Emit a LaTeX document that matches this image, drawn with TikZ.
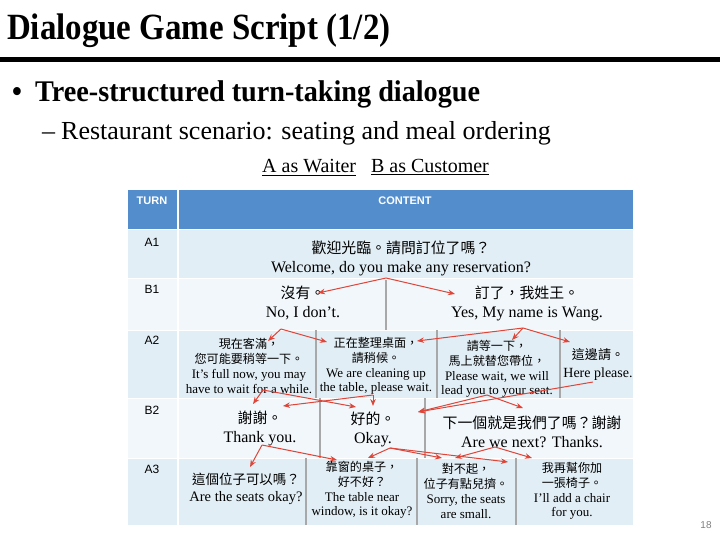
\documentclass[tikz,border=0pt]{standalone}
\usepackage{fontspec}
\usetikzlibrary{arrows.meta}
\setmainfont{Liberation Serif}
\newfontfamily\cjk[Scale=0.93]{Noto Sans CJK TC}
\newfontfamily\hdfont{Liberation Sans}
\newfontfamily\ttlfont[FakeStretch=0.89]{Liberation Serif}
\newfontfamily\ptfont[FakeStretch=0.94]{Liberation Serif}
\definecolor{hdblue}{RGB}{84,141,204}
\definecolor{rowA}{RGB}{226,238,245}
\definecolor{rowB}{RGB}{241,247,250}
\definecolor{sepgray}{RGB}{168,168,168}
\definecolor{arrred}{RGB}{222,70,58}
\tikzset{
  cell/.style={align=center, inner sep=0pt, font=\fontsize{13}{14.8}\selectfont},
  bigcell/.style={align=center, inner sep=0pt, font=\fontsize{16}{19}\selectfont},
  turn/.style={font=\hdfont\fontsize{12}{12}\selectfont, anchor=north, inner sep=0pt},
  sep/.style={sepgray, line width=1.2pt},
  talk/.style={-{Stealth[length=7pt,width=5.5pt]}, arrred, line width=1pt},
}
\begin{document}
\begin{tikzpicture}[x=1pt,y=-1pt]
\useasboundingbox (0,0) rectangle (720,540);
\fill[white] (0,0) rectangle (720,540);

\node[anchor=base west, inner sep=0pt, font=\ttlfont\bfseries\fontsize{37}{37}\selectfont] (title) at (7,40) {Dialogue Game Script (1/2)};
\fill[black] (0,57) rectangle (720,62);
\node[anchor=base west, inner sep=0pt, font=\ptfont\bfseries\fontsize{30}{30}\selectfont] (bullet) at (12,102) {\textbullet};
\node[anchor=base west, inner sep=0pt, font=\ptfont\bfseries\fontsize{30}{30}\selectfont] (point) at (35,102) {Tree-structured turn-taking dialogue};
\node[anchor=base west, inner sep=0pt, font=\fontsize{26}{26}\selectfont] (sub) at (42,140) {–\hspace{6pt}Restaurant scenario: seating and meal ordering};
\node[anchor=base west, inner sep=0pt, font=\fontsize{20}{20}\selectfont] (roles) at (262,173) {\underline{A as Waiter}\hspace{15pt}\underline{B as Customer}};

\fill[hdblue] (128,190) rectangle (633,230);
\fill[rowA] (128,230) rectangle (633,278);
\fill[rowB] (128,278) rectangle (633,330);
\fill[rowA] (128,330) rectangle (633,398);
\fill[rowB] (128,398) rectangle (633,458);
\fill[rowA] (128,458) rectangle (633,525);
\draw[white, line width=1.5pt] (178,190) -- (178,525);
\foreach \y in {230,278,330,398,458} \draw[white, line width=1pt] (128,\y) -- (633,\y);

\node[turn, text=white, font=\hdfont\bfseries\fontsize{11}{11}\selectfont] (hturn) at (152,197) {TURN};
\node[turn, text=white, font=\hdfont\bfseries\fontsize{11}{11}\selectfont] (hcontent) at (405,197) {CONTENT};
\node[turn] (ta1) at (152,238) {A1};
\node[turn] (tb1) at (152,285) {B1};
\node[turn] (ta2) at (152,336) {A2};
\node[turn] (tb2) at (152,406) {B2};
\node[turn] (ta3) at (152,465) {A3};

\draw[sep] (386,280) -- (386,330);
\draw[sep] (316,330) -- (316,398);
\draw[sep] (437,330) -- (437,398);
\draw[sep] (560,330) -- (560,398);
\draw[sep] (320,398) -- (320,458);
\draw[sep] (425,398) -- (425,458);
\draw[sep] (306,458) -- (306,525);
\draw[sep] (417,458) -- (417,525);
\draw[sep] (516,458) -- (516,525);

\node[bigcell] (a1) at (401,258) {{\cjk 歡迎光臨。請問訂位了嗎？}\\Welcome, do you make any reservation?};
\node[bigcell] (b1l) at (303,303) {{\cjk 沒有。}\\No, I don’t.};
\node[bigcell] (b1r) at (527,303) {{\cjk 訂了，我姓王。}\\Yes, My name is Wang.};
\node[cell] (a2a) at (249,366) {{\cjk 現在客滿，}\\{\cjk 您可能要稍等一下。}\\It’s full now, you may\\have to wait for a while.};
\node[cell] (a2b) at (376,366) {{\cjk 正在整理桌面，}\\{\cjk 請稍候。}\\We are cleaning up\\the table, please wait.};
\node[cell] (a2c) at (497,369) {{\cjk 請等一下，}\\{\cjk 馬上就替您帶位，}\\Please wait, we will\\lead you to your seat.};
\node[cell, font=\fontsize{14}{18}\selectfont] (a2d) at (598,364) {{\cjk 這邊請。}\\Here please.};
\node[bigcell] (b2a) at (260,428) {{\cjk 謝謝。}\\Thank you.};
\node[bigcell] (b2b) at (373,429) {{\cjk 好的。}\\Okay.};
\node[bigcell] (b2c) at (532,432) {{\cjk 下一個就是我們了嗎？謝謝}\\Are we next? Thanks.};
\node[cell, font=\fontsize{14.5}{16.5}\selectfont] (a3a) at (246,489) {{\cjk 這個位子可以嗎？}\\Are the seats okay?};
\node[cell] (a3b) at (362,490) {{\cjk 靠窗的桌子，}\\{\cjk 好不好？}\\The table near\\window, is it okay?};
\node[cell] (a3c) at (466,491) {{\cjk 對不起，}\\{\cjk 位子有點兒擠。}\\Sorry, the seats\\are small.};
\node[cell] (a3d) at (572,491) {{\cjk 我再幫你加}\\{\cjk 一張椅子。}\\I’ll add a chair\\for you.};

\coordinate (oa1) at (386,278);
\coordinate (ob1l) at (281,329);
\coordinate (ob1r) at (523,328);
\coordinate (oa2a) at (263,390);
\coordinate (oa2b) at (373,395);
\coordinate (oa2c) at (487,395);
\coordinate (oa2d) at (593,382);
\coordinate (ob2a) at (262,445);
\coordinate (ob2b) at (390,448);
\coordinate (ob2c) at (495,447);
\coordinate (xb1l) at (318,293);
\coordinate (xb1r) at (455,294);
\coordinate (xa2a) at (268,341);
\coordinate (xa2b) at (327,342);
\coordinate (xa2bb) at (417,341);
\coordinate (xa2c) at (512,340);
\coordinate (xa2d) at (570,342);
\coordinate (xb2a) at (253,404);
\coordinate (xb2aa) at (283,406);
\coordinate (xb2b) at (356,407);
\coordinate (xb2bb) at (373,406);
\coordinate (xb2bc) at (418,412);
\coordinate (xb2c) at (523,408);
\coordinate (xa3a) at (250,467);
\coordinate (xa3b) at (337,460);
\coordinate (xa3bb) at (368,458);
\coordinate (xa3c) at (442,458);
\coordinate (xa3cc) at (508,462);
\coordinate (xa3cl) at (455,458);
\coordinate (xa3d) at (532,458);

\foreach \s/\t in {oa1/xb1l, oa1/xb1r, ob1l/xa2a, ob1l/xa2b, ob1r/xa2bb, ob1r/xa2c, ob1r/xa2d,
  oa2a/xb2a, oa2a/xb2b, oa2b/xb2bb, oa2b/xb2aa, oa2c/xb2bc, oa2c/xb2c, oa2d/xb2bc,
  ob2a/xa3a, ob2a/xa3b, ob2b/xa3bb, ob2b/xa3c, ob2b/xa3cc, ob2c/xa3cl, ob2c/xa3d}
  \draw[talk] (\s) -- (\t);

\node[text=gray, font=\hdfont\fontsize{10}{10}\selectfont] (page) at (706,525) {18};
\end{tikzpicture}
\end{document}
